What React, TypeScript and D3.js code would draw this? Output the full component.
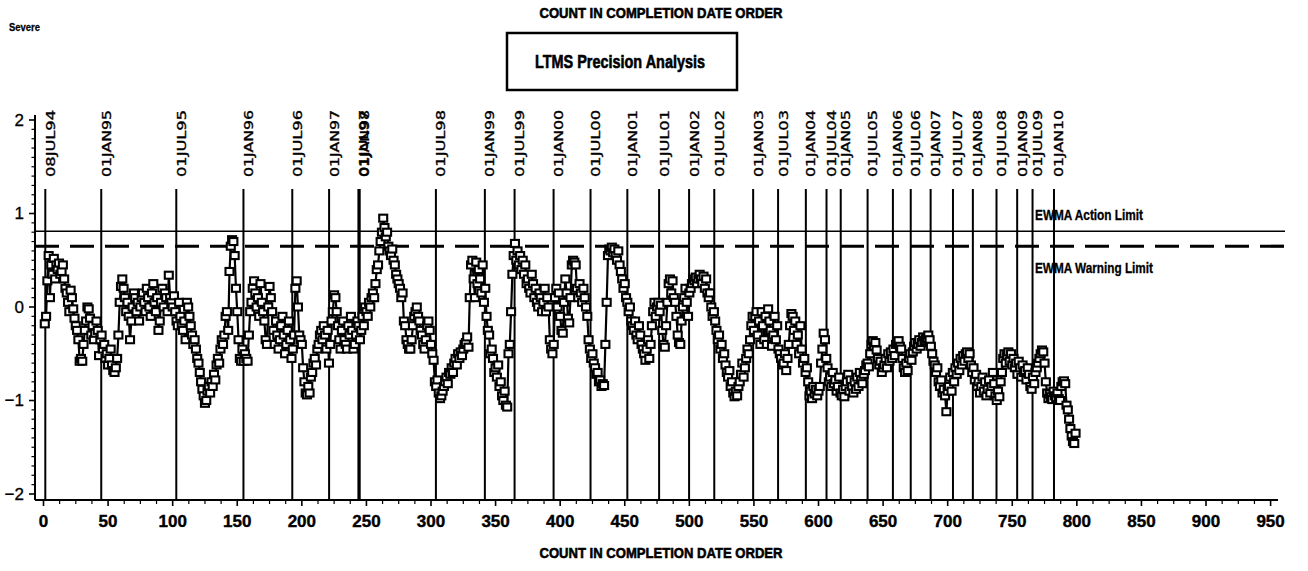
import React from 'react';
import * as d3 from 'd3';

// EWMA values in completion-date order (count 1..)
const ewma1994to1997: number[] = [
  -0.18,-0.10,0.28,0.55,0.10,0.45,0.35,0.52,0.30,0.45,0.40,0.47,0.35,0.38,0.45,0.30,0.20,0.15,0.05,-0.05,0.18,0.10,-0.02,-0.12,-0.20,
  -0.25,-0.35,-0.58,-0.55,-0.58,-0.40,-0.25,-0.15,0.00,-0.02,-0.12,-0.30,-0.20,-0.35,-0.28,-0.15,-0.25,-0.52,-0.35,-0.30,-0.45,-0.40,-0.55,-0.50,-0.62,
  -0.55,-0.45,-0.62,-0.68,-0.70,-0.65,-0.55,-0.30,0.05,0.22,0.30,0.20,0.10,-0.05,0.05,-0.10,-0.35,-0.15,0.00,0.15,0.10,-0.05,0.05,-0.15,0.00,
  0.10,0.15,0.05,-0.05,0.20,0.10,0.00,-0.10,0.15,0.25,0.05,-0.05,0.10,-0.25,-0.15,0.05,0.20,0.00,0.15,0.10,-0.05,0.34,0.10,0.05,0.00,
  0.12,-0.05,-0.15,-0.20,0.05,-0.10,-0.20,-0.25,-0.15,-0.35,0.05,0.00,-0.10,-0.20,-0.30,-0.40,-0.35,-0.45,-0.55,-0.60,-0.70,-0.80,-0.88,-0.95,-1.03,
  -1.00,-0.90,-0.85,-0.92,-0.80,-0.85,-0.72,-0.78,-0.62,-0.55,-0.60,-0.45,-0.35,-0.40,-0.30,-0.10,-0.05,-0.25,0.38,0.65,0.72,0.70,0.55,0.20,-0.05,
  -0.35,-0.55,-0.58,-0.45,-0.58,-0.50,-0.55,-0.58,-0.30,-0.05,0.05,0.20,0.28,0.15,0.00,0.10,-0.10,0.25,0.05,-0.05,-0.15,-0.35,-0.40,0.00,0.22,
  0.10,-0.05,-0.25,-0.40,-0.15,-0.30,-0.45,-0.35,-0.20,-0.10,-0.30,-0.50,-0.40,-0.25,-0.15,-0.35,-0.55,-0.45,-0.30,0.20,0.28,0.00,-0.30,-0.35,-0.40,
];
const ewma1997to2000: number[] = [
  -0.65,-0.80,-0.92,-0.94,-0.85,-0.92,-0.75,-0.70,-0.60,-0.55,-0.62,-0.45,-0.40,-0.30,-0.25,-0.35,-0.20,-0.30,-0.45,-0.25,-0.60,-0.40,-0.15,-0.05,0.13,
  0.10,-0.05,-0.20,-0.35,-0.45,-0.25,-0.15,-0.35,-0.40,-0.45,-0.20,-0.30,-0.10,-0.25,-0.45,-0.40,-0.30,-0.15,-0.20,-0.35,-0.25,-0.10,-0.20,0.00,-0.05,
  -0.10,0.05,0.00,0.10,0.15,0.10,0.25,0.40,0.45,0.60,0.70,0.80,0.95,0.85,0.75,0.80,0.65,0.60,0.55,0.62,0.50,0.45,0.35,0.30,0.25,
  0.20,0.10,0.15,-0.15,-0.20,-0.35,-0.40,-0.45,-0.45,-0.35,-0.20,-0.10,-0.05,0.00,-0.10,-0.15,-0.25,-0.30,-0.40,-0.45,-0.35,-0.20,-0.15,-0.25,-0.40,
  -0.50,-0.57,-0.80,-0.85,-0.78,-0.92,-0.98,-0.95,-0.90,-0.85,-0.80,-0.75,-0.82,-0.70,-0.72,-0.65,-0.70,-0.60,-0.55,-0.62,-0.50,-0.55,-0.48,-0.52,-0.45,
  -0.40,-0.38,-0.32,-0.43,0.10,0.45,0.50,0.30,0.10,0.48,0.25,0.40,0.30,0.15,0.45,0.05,0.20,-0.10,-0.25,-0.30,-0.50,-0.45,-0.55,-0.70,-0.65,
  -0.75,-0.62,-0.85,-0.80,-0.95,-1.00,-0.90,-1.05,-1.07,-0.50,-0.40,-0.05,0.35,0.55,0.68,0.50,0.60,0.45,0.55,0.40,0.50,0.35,0.45,0.25,0.30,
  0.20,0.15,0.35,0.25,0.10,0.20,0.05,0.00,0.15,0.10,-0.05,0.05,0.20,-0.05,0.10,0.00,-0.35,-0.45,-0.50,-0.40,0.10,0.20,0.00,0.15,-0.10,
];
const ewma2000to2004: number[] = [
  -0.25,-0.28,0.05,0.30,0.15,-0.12,-0.17,0.10,0.45,0.50,0.48,0.45,0.20,0.10,0.25,0.15,0.05,0.20,0.10,0.00,-0.10,-0.35,-0.45,-0.55,-0.50,
  -0.60,-0.65,-0.72,-0.70,-0.80,-0.78,-0.85,-0.82,-0.84,-0.40,0.05,0.55,0.62,0.60,0.64,0.58,0.62,0.55,0.50,0.60,0.45,0.38,0.30,0.20,0.25,
  0.10,0.05,-0.05,0.00,-0.15,-0.20,-0.25,-0.15,-0.30,-0.35,-0.20,-0.30,-0.40,-0.45,-0.50,-0.57,-0.45,-0.35,-0.55,-0.40,-0.20,-0.05,0.05,-0.10,0.00,
  0.05,-0.05,0.02,-0.25,-0.40,-0.43,-0.20,0.05,0.25,0.30,0.15,0.28,0.10,0.05,-0.10,-0.30,-0.38,-0.40,-0.15,0.00,0.10,0.20,0.05,-0.10,0.15,
  0.20,0.25,0.30,0.28,0.32,0.25,0.30,0.35,0.30,0.25,0.33,0.20,0.30,0.15,0.10,0.15,0.00,-0.10,-0.05,-0.15,-0.25,-0.35,-0.30,-0.45,-0.40,
  -0.55,-0.50,-0.62,-0.70,-0.75,-0.68,-0.85,-0.80,-0.92,-0.96,-0.90,-0.95,-0.85,-0.80,-0.72,-0.60,-0.75,-0.65,-0.55,-0.45,-0.50,-0.35,-0.20,-0.10,-0.25,
  -0.10,-0.05,-0.30,-0.15,-0.40,-0.05,-0.20,-0.35,-0.10,-0.40,-0.02,-0.15,-0.25,-0.42,-0.30,-0.10,-0.35,-0.20,-0.45,-0.50,-0.55,-0.62,-0.60,-0.50,-0.68,
  -0.55,-0.40,-0.20,-0.07,-0.10,-0.25,-0.15,-0.40,-0.30,-0.50,-0.20,-0.45,-0.60,-0.55,-0.70,-0.65,-0.80,-0.95,-0.90,-0.98,-0.85,-0.93,-0.88,-0.95,-0.90,
];
const ewma2004to2010: number[] = [
  -0.85,-0.60,-0.45,-0.28,-0.35,-0.55,-0.65,-0.80,-0.75,-0.85,-0.70,-0.82,-0.78,-0.90,-0.85,-0.75,-0.92,-0.95,-0.88,-0.96,-0.85,-0.80,-0.72,-0.90,-0.78,
  -0.85,-0.92,-0.80,-0.88,-0.75,-0.85,-0.70,-0.78,-0.82,-0.72,-0.68,-0.62,-0.60,-0.64,-0.50,-0.40,-0.36,-0.42,-0.38,-0.46,-0.55,-0.62,-0.58,-0.70,-0.65,
  -0.62,-0.55,-0.65,-0.50,-0.58,-0.48,-0.55,-0.45,-0.52,-0.40,-0.38,-0.36,-0.42,-0.45,-0.55,-0.65,-0.70,-0.60,-0.68,-0.55,-0.50,-0.57,-0.48,-0.42,-0.38,
  -0.45,-0.40,-0.35,-0.42,-0.38,-0.32,-0.36,-0.34,-0.33,-0.30,-0.35,-0.42,-0.50,-0.58,-0.62,-0.70,-0.65,-0.80,-0.85,-0.78,-0.92,-0.88,-0.95,-1.12,-0.90,
  -0.85,-0.75,-0.90,-0.70,-0.80,-0.65,-0.72,-0.60,-0.68,-0.55,-0.62,-0.52,-0.58,-0.50,-0.48,-0.55,-0.50,-0.62,-0.70,-0.65,-0.78,-0.72,-0.85,-0.80,-0.92,
  -0.85,-0.75,-0.90,-0.80,-0.95,-0.88,-0.78,-0.92,-0.85,-0.70,-0.82,-0.95,-1.00,-0.90,-0.96,-0.80,-0.70,-0.55,-0.50,-0.60,-0.52,-0.48,-0.58,-0.50,-0.62,
  -0.55,-0.65,-0.60,-0.72,-0.58,-0.65,-0.75,-0.62,-0.70,-0.68,-0.78,-0.65,-0.72,-0.85,-0.88,-0.75,-0.82,-0.70,-0.65,-0.60,-0.55,-0.50,-0.46,-0.48,-0.60,
  -0.80,-0.92,-0.98,-0.93,-0.96,-0.99,-0.90,-0.95,-0.97,-0.92,-0.98,-1.00,-0.85,-0.80,-0.79,-0.82,-1.05,-1.10,-1.20,-1.30,-1.38,-1.44,-1.46,-1.35,
];

const dateLabels: string[] = [
  '08JUL94','01JAN95','01JUL95','01JAN96','01JUL96','01JAN97','01JUL97','01JAN98','01JUL98','01JAN99',
  '01JUL99','01JAN00','01JUL00','01JAN01','01JUL01','01JAN02','01JUL02','01JAN03','01JUL03','01JAN04',
  '01JUL04','01JAN05','01JUL05','01JAN06','01JUL06','01JAN07','01JUL07','01JAN08','01JUL08','01JAN09',
  '01JUL09','01JAN10',
];
const dateCounts: number[] = [
  1.4, 44.7, 102.8, 154.8, 192.6, 221.1, 243.8, 244.8, 303.8, 341.7,
  364.7, 394.9, 423.5, 452.0, 476.6, 499.8, 519.3, 549.4, 568.7, 590.2,
  606.2, 617.2, 638.0, 657.6, 671.4, 686.8, 704.1, 719.5, 737.8, 753.8,
  765.7, 782.3,
];

const xTickValues: number[] = [0,50,100,150,200,250,300,350,400,450,500,550,600,650,700,750,800,850,900,950];
const yTickValues: number[] = [-2,-1,0,1,2];
const actionLimit = 0.81;
const warningLimit = 0.65;

const titleText = 'COUNT IN COMPLETION DATE ORDER';
const boxTitle = 'LTMS Precision Analysis';
const cornerText = 'Severe';
const actionLabel = 'EWMA Action Limit';
const warningLabel = 'EWMA Warning Limit';

const narrowBold = "'Liberation Sans Narrow', 'Arial Narrow', 'Liberation Sans', Arial, sans-serif";

export default function App() {
  const values = [...ewma1994to1997, ...ewma1997to2000, ...ewma2000to2004, ...ewma2004to2010];
  const x = d3.scaleLinear().domain([0, 950]).range([43.5, 1270.6]);
  const y = d3.scaleLinear().domain([-2, 2]).range([494, 120]);

  const axisLeft = 35;
  const axisBottom = 500;
  const axisTop = 115;
  const axisRight = 1278;
  const limitRight = 1285;

  const pts: [number, number][] = values.map((v, i) => [x(i + 1), y(v)]);
  const path = d3.line()(pts) || '';

  const xMinor = d3.range(0, 950.01, 12.5).filter((v) => v % 50 !== 0);
  const yMinor = d3.range(-20, 20.5, 1).map((v) => v / 10).filter((v) => Math.abs(v - Math.round(v)) > 1e-6);

  const heavy = { stroke: '#000', strokeWidth: 0.6 };

  return (
    <svg
      width={1308}
      height={571}
      style={{ position: 'absolute', left: 0, top: 0, background: '#fff' }}
      xmlns="http://www.w3.org/2000/svg"
    >
      <rect x={0} y={0} width={1308} height={571} fill="#fff" />
      {/* top title */}
      <text x={661} y={18} textAnchor="middle" fontFamily={narrowBold} fontWeight="bold" fontSize={15}
        textLength={243} lengthAdjust="spacingAndGlyphs" {...heavy}>{titleText}</text>
      <text x={9} y={31} fontFamily={narrowBold} fontWeight="bold" fontSize={11}
        textLength={31} lengthAdjust="spacingAndGlyphs" stroke="#000" strokeWidth={0.3}>{cornerText}</text>
      {/* box title */}
      <rect x={507} y={33} width={230} height={57} fill="none" stroke="#000" strokeWidth={2.5} />
      <text x={620} y={68} textAnchor="middle" fontFamily={narrowBold} fontWeight="bold" fontSize={18}
        textLength={170} lengthAdjust="spacingAndGlyphs" {...heavy}>{boxTitle}</text>

      {/* date reference lines */}
      {dateCounts.map((c, i) => (
        <g key={'d' + i}>
          <line x1={x(c)} x2={x(c)} y1={189} y2={axisBottom} stroke="#000" strokeWidth={2} />
          <text
            transform={`translate(${x(c) + 9.5},177) rotate(-90)`}
            fontFamily="'DejaVu Sans', Verdana, sans-serif"
            fontSize={13}
            textLength={67}
            lengthAdjust="spacingAndGlyphs"
            stroke="#000"
            strokeWidth={0.35}
          >{dateLabels[i]}</text>
        </g>
      ))}

      {/* limits */}
      <line x1={axisLeft} x2={limitRight} y1={y(actionLimit)} y2={y(actionLimit)} stroke="#000" strokeWidth={1.6} />
      <line x1={axisLeft} x2={limitRight} y1={y(warningLimit)} y2={y(warningLimit)} stroke="#000" strokeWidth={3.2}
        strokeDasharray="24 11" />
      <text x={1035} y={y(actionLimit) - 11} fontFamily={narrowBold} fontWeight="bold" fontSize={14}
        textLength={108} lengthAdjust="spacingAndGlyphs" stroke="#000" strokeWidth={0.3}>{actionLabel}</text>
      <text x={1035} y={y(warningLimit) + 27} fontFamily={narrowBold} fontWeight="bold" fontSize={14}
        textLength={118} lengthAdjust="spacingAndGlyphs" stroke="#000" strokeWidth={0.3}>{warningLabel}</text>

      {/* series */}
      <path d={path} fill="none" stroke="#000" strokeWidth={2.2} />
      {pts.map((p, i) => (
        <rect key={'m' + i} x={p[0] - 4} y={p[1] - 3.5} width={8} height={7} fill="#fff" stroke="#000" strokeWidth={2.1} />
      ))}

      {/* y axis */}
      <line x1={axisLeft} x2={axisLeft} y1={axisTop} y2={axisBottom} stroke="#000" strokeWidth={2} />
      {yTickValues.map((v) => (
        <g key={'yt' + v}>
          <line x1={axisLeft - 6} x2={axisLeft} y1={y(v)} y2={y(v)} stroke="#000" strokeWidth={1.6} />
          <text x={24} y={y(v)} textAnchor="end" dominantBaseline="central"
            fontFamily="'Liberation Sans', Arial, sans-serif" fontSize={17} stroke="#000" strokeWidth={0.3}>{v < 0 ? '\u2212' + Math.abs(v) : String(v)}</text>
        </g>
      ))}
      {yMinor.map((v) => (
        <line key={'ym' + v} x1={axisLeft - 3.5} x2={axisLeft} y1={y(v)} y2={y(v)} stroke="#000" strokeWidth={1.2} />
      ))}

      {/* x axis */}
      <line x1={axisLeft} x2={axisRight} y1={axisBottom} y2={axisBottom} stroke="#000" strokeWidth={2} />
      {xTickValues.map((v) => (
        <g key={'xt' + v}>
          <line x1={x(v)} x2={x(v)} y1={axisBottom} y2={axisBottom + 6} stroke="#000" strokeWidth={1.6} />
          <text x={x(v)} y={527} textAnchor="middle" fontFamily={narrowBold} fontWeight="bold" fontSize={17}
            stroke="#000" strokeWidth={0.4}>{v}</text>
        </g>
      ))}
      {xMinor.map((v) => (
        <line key={'xm' + v} x1={x(v)} x2={x(v)} y1={axisBottom} y2={axisBottom + 4} stroke="#000" strokeWidth={1.2} />
      ))}

      {/* bottom title */}
      <text x={661} y={558} textAnchor="middle" fontFamily={narrowBold} fontWeight="bold" fontSize={15}
        textLength={243} lengthAdjust="spacingAndGlyphs" {...heavy}>{titleText}</text>
    </svg>
  );
}
